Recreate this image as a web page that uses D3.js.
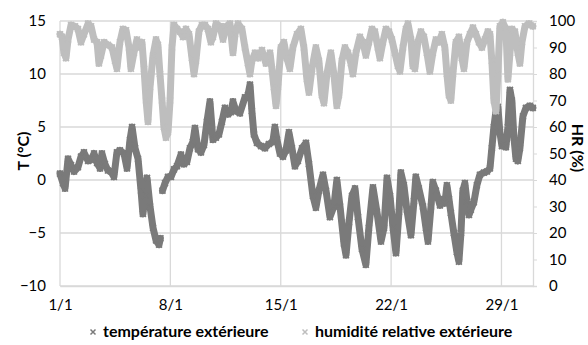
<!DOCTYPE html>
<html><head><meta charset="utf-8">
<script src="https://cdn.jsdelivr.net/npm/d3@7"></script>
<style>
body{margin:0;background:#fff;}
svg{display:block;font-family:Lato,"Open Sans",sans-serif;}
</style></head>
<body><svg id="c" width="588" height="345"></svg>
<script>
// days since 1 January 00:00
const tempDays = [0,0.19,0.32,0.51,0.70,0.89,1.14,1.33,1.52,1.78,1.97,2.16,2.35,2.54,2.66,2.85,3.04,3.23,3.42,3.61,3.80,4.06,4.25,4.44,4.57,4.76,4.95,5.14,5.26,5.39,5.52,5.71,5.90,6.09,6.28,6.37,
  6.50,6.66,6.85,7.04,7.23,7.42,7.67,7.86,8.05,8.24,8.43,8.56,8.75,8.94,9.13,9.32,9.51,9.70,9.89,10.08,10.27,10.46,10.65,10.84,10.97,11.16,11.41,11.73,11.92,12.05,12.17,12.30,12.49,12.75,13.00,13.25,13.50,13.63,13.76,13.95,14.14,14.33,14.52,14.71,14.90,15.09,15.35,15.60,15.79,16.04,16.23,16.42,16.68,16.87,17.12,17.37,17.56,17.76,18.01,18.14,18.33,18.52,18.71,18.90,19.15,19.40,19.59,19.85,20.10,20.36,20.55,20.74,20.93,21.12,21.31,21.50,21.62,21.81,22.00,22.26,22.45,22.57,22.76,23.02,23.21,23.34,23.53,23.65,23.84,24.10,24.29,24.41,24.54,24.67,24.79,24.98,25.17,25.30,25.43,25.55,25.68,25.81,25.94,26.06,26.25,26.44,26.63,26.89,27.08,27.27,27.39,27.52,27.65,27.77,27.90,28.03,28.15,28.28,28.41,28.54,28.66,28.79,28.92,29.04,29.17,29.36,29.55,29.80,29.99];
const tempValues = [0.6,-0.3,-0.8,2.0,1.4,0.8,1.2,2.2,2.6,1.8,1.9,2.5,1.6,1.1,2.5,1.5,0.9,0.8,0.3,2.6,2.8,2.5,1.1,3.8,5.0,3.0,2.0,-1.0,-3.2,-1.5,0.2,-2.5,-4.5,-5.7,-6.1,-5.5,
  -1.0,-0.3,0.3,0.3,1.0,1.3,2.4,1.5,1.7,3.0,3.6,4.9,2.9,2.6,3.3,5.5,7.4,3.8,4.0,4.3,5.5,6.8,6.2,6.4,7.4,6.5,6.3,7.8,8.0,9.0,6.5,4.3,3.5,3.2,3.0,3.4,3.6,5.0,3.8,2.5,2.2,2.8,4.5,3.0,1.3,1.8,3.0,3.5,1.5,-1.5,-2.6,-1.0,0.5,-1.0,-3.5,-2.5,0.0,-2.5,-6.0,-7.1,-4.0,-1.5,-0.8,-3.5,-6.5,-8.0,-4.5,-0.7,-3.0,-5.8,-4.5,0.2,-1.5,-4.5,-6.9,-3.0,0.7,-0.5,-2.8,-5.2,-2.0,0.3,-0.8,-2.5,-4.5,-5.8,-2.5,-0.2,-1.0,-2.4,-1.8,-2.2,-0.5,-1.8,-3.1,-5.0,-6.8,-7.7,-5.0,-1.0,-0.3,-2.0,-3.3,-2.8,-2.1,-0.5,0.5,0.7,0.8,1.1,3.0,5.0,6.5,6.9,4.5,3.2,3.3,3.1,5.0,8.5,7.5,4.0,2.0,1.8,3.0,6.0,6.8,7.0,6.8];
const hrDays = [0,0.13,0.25,0.38,0.51,0.70,0.95,1.14,1.33,1.52,1.78,1.97,2.16,2.35,2.47,2.60,2.79,3.04,3.30,3.49,3.61,3.80,3.99,4.19,4.38,4.50,4.69,4.88,5.07,5.20,5.33,5.46,5.58,5.71,5.90,6.09,6.21,6.34,6.47,6.59,6.72,6.85,6.98,7.10,7.23,7.42,7.61,7.80,7.99,8.18,8.37,8.50,8.62,8.81,9.00,9.19,9.38,9.57,9.70,9.89,10.15,10.34,10.53,10.78,10.97,11.10,11.29,11.54,11.73,11.92,12.05,12.17,12.37,12.56,12.81,13.06,13.32,13.44,13.57,13.70,13.82,14.01,14.20,14.39,14.58,14.77,15.03,15.28,15.47,15.66,15.79,15.98,16.23,16.42,16.61,16.74,16.93,17.18,17.37,17.56,17.69,17.88,18.07,18.26,18.45,18.58,18.77,19.02,19.21,19.40,19.59,19.78,19.97,20.16,20.29,20.48,20.67,20.86,21.05,21.24,21.43,21.56,21.75,21.94,22.07,22.26,22.38,22.51,22.70,22.89,23.08,23.27,23.46,23.65,23.84,24.03,24.22,24.41,24.54,24.67,24.79,24.92,25.11,25.30,25.49,25.62,25.81,26.00,26.19,26.38,26.57,26.76,26.95,27.14,27.27,27.39,27.52,27.65,27.77,27.90,28.09,28.28,28.41,28.54,28.66,28.85,29.04,29.17,29.30,29.49,29.74,29.99];
const hrValues = [95,94,88,86,93,98.5,98,97,92,95,99,98,93,92,84,87,92,91,90,85,82,92,97,96.5,90,82,88,93,90,92,82,70,62,75,87,93,91,80,70,60,56,58,70,90,98.5,97,96,94,97,95,86,80,85,96,98.5,98.5,97,92,94,99,98,93,98,99,88,95,99,97,90,84,80,85,88,86,89,84,88,82,75,68,75,90,92,86,82,90,95,97,90,78,73,82,90,85,72,69,80,88,80,68,72,85,90,88,84,80,88,94,92,87,92,97,96,90,86,92,97,96,93,88,83,81,90,97,99,93,83,82,92,96,94,88,81,88,93,92,95,90,80,72,70,80,92,94,86,82,92,95,97.5,95,92,90,93,96,95,85,70,66,80,98,99.5,97,78,88,97,96,88,84,92,98,99,98];
const tempTicks = [-10,-5,0,5,10,15];
const hrTicks = [0,10,20,30,40,50,60,70,80,90,100];
const dateTicks = [1,8,15,22,29];
const seriesNames = ["température extérieure","humidité relative extérieure"];
const seriesColors = ["#7a7a7a","#bebebe"];

const svg = d3.select("#c");
const L=60, R=533, T=21, B=286;
const day0 = new Date(2013,0,1);
const toDate = d => new Date(day0.getTime()+d*86400000);
const x = d3.scaleTime().domain([day0,new Date(2013,0,31)]).range([L,R]);
const yT = d3.scaleLinear().domain([-10,15]).range([B,T]);
const yH = d3.scaleLinear().domain([0,100]).range([B,T]);

// gridlines
svg.append("g").selectAll("line").data(tempTicks).join("line")
  .attr("x1",L).attr("x2",R).attr("y1",d=>yT(d)).attr("y2",d=>yT(d))
  .attr("stroke","#d9d9d9").attr("stroke-width",1.3);
svg.append("g").selectAll("line").data(dateTicks).join("line")
  .attr("x1",d=>x(new Date(2013,0,d))).attr("x2",d=>x(new Date(2013,0,d)))
  .attr("y1",T).attr("y2",B).attr("stroke","#d9d9d9").attr("stroke-width",1.3);

// axes
const axL = svg.append("g").attr("transform",`translate(${L-14},0)`)
  .call(d3.axisLeft(yT).tickValues(tempTicks).tickSize(0).tickPadding(0));
const axR = svg.append("g").attr("transform",`translate(${R},0)`)
  .call(d3.axisRight(yH).tickValues(hrTicks).tickSize(4).tickPadding(12));
const axB = svg.append("g").attr("transform",`translate(0,${B})`)
  .call(d3.axisBottom(x).tickValues(dateTicks.map(d=>new Date(2013,0,d))).tickFormat(d3.timeFormat("%-d/%-m")).tickSize(0).tickPadding(13));
[axL,axR,axB].forEach(a=>{a.select(".domain").attr("stroke","#d9d9d9").attr("stroke-width",1.3);
  a.selectAll(".tick line").attr("stroke","#d9d9d9");
  a.selectAll("text").attr("font-size",15).attr("fill","#000").attr("font-family","Lato");});
axL.select(".domain").remove();

// series
const tempData = tempDays.map((d,i)=>({t:toDate(d),v:tempValues[i]}));
const hrData = hrDays.map((d,i)=>({t:toDate(d),v:hrValues[i]}));
const xMark = "M-3,-3L3,3M-3,3L3,-3";
function markers(data, ys, color){
  svg.append("g").selectAll("path").data(data).join("path")
    .attr("transform",d=>`translate(${x(d.t)},${ys(d.v)})`)
    .attr("d",xMark).attr("stroke",color).attr("stroke-width",1.6).attr("fill","none");
}
// temperature has a data gap on 7/1
const tGapIdx = 36;
const tLine = d3.line().x(d=>x(d.t)).y(d=>yT(d.v));
[tempData.slice(0,tGapIdx), tempData.slice(tGapIdx)].forEach(seg=>{
  svg.append("path").datum(seg).attr("d",tLine).attr("fill","none")
   .attr("stroke",seriesColors[0]).attr("stroke-width",7).attr("stroke-linejoin","round").attr("stroke-linecap","round");
});
markers(tempData, yT, seriesColors[0]);
const hLine = d3.line().x(d=>x(d.t)).y(d=>yH(d.v));
svg.append("path").datum(hrData).attr("d",hLine).attr("fill","none")
  .attr("stroke",seriesColors[1]).attr("stroke-width",7).attr("stroke-linejoin","round").attr("stroke-linecap","round");
markers(hrData, yH, seriesColors[1]);

// axis titles
svg.append("text").attr("transform",`translate(29,151) rotate(-90)`).attr("text-anchor","middle")
  .attr("font-weight","bold").attr("font-size",16).text("T (°C)");
svg.append("text").attr("transform",`translate(572,148) rotate(90)`).attr("text-anchor","middle")
  .attr("font-weight","bold").attr("font-size",16).text("HR (%)");

// legend
const legX = [93,305];
seriesNames.forEach((n,i)=>{
  const g = svg.append("g").attr("transform",`translate(${legX[i]},332)`);
  g.append("path").attr("d","M-2.5,-2.5L2.5,2.5M-2.5,2.5L2.5,-2.5").attr("stroke",seriesColors[i]).attr("stroke-width",1.5);
  g.append("text").attr("x",10).attr("y",5).attr("font-weight","bold").attr("font-size",16).text(n);
});
</script></body></html>
